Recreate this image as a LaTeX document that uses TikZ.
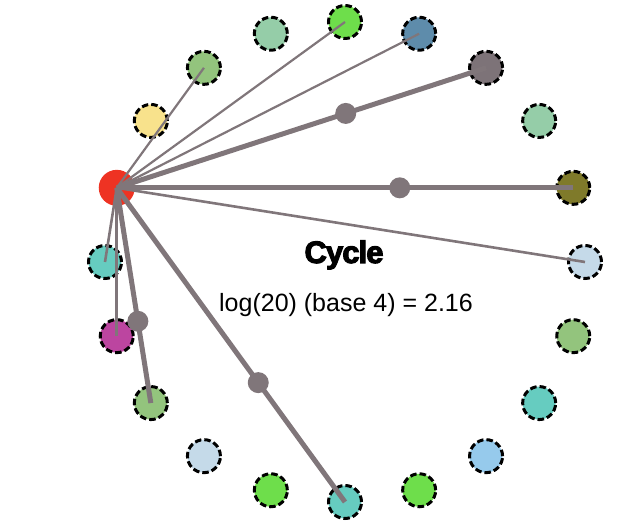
\documentclass[tikz,border=0pt]{standalone}
\usepackage{fontspec}
\setmainfont{Liberation Sans}
\newfontfamily\titlefont[FakeBold=3.5,LetterSpace=-3]{Liberation Sans Bold}
\usepackage{tikz}
\usetikzlibrary{positioning}
\definecolor{edgegrey}{RGB}{128,118,122}
\definecolor{paleblue}{RGB}{197,218,233}
\definecolor{olivec}{RGB}{127,122,42}
\definecolor{sage}{RGB}{149,205,168}
\definecolor{mauvegrey}{RGB}{125,115,120}
\definecolor{steelc}{RGB}{94,140,171}
\definecolor{limec}{RGB}{110,222,75}
\definecolor{leafc}{RGB}{147,196,125}
\definecolor{butter}{RGB}{248,226,140}
\definecolor{sourcered}{RGB}{238,51,35}
\definecolor{tealc}{RGB}{102,204,192}
\definecolor{magentac}{RGB}{188,69,160}
\definecolor{skyc}{RGB}{150,202,236}

\begin{document}
\begin{tikzpicture}[
	x=1pt,y=1pt,
	vertex/.style={circle,draw=black,line width=3pt,dash pattern=on 6.5pt off 3pt,minimum size=33pt,inner sep=0pt},
	link/.style={draw=edgegrey,line width=2.2pt},
	heavy/.style={draw=edgegrey,line width=5pt},
	knot/.style={circle,fill=edgegrey,minimum size=21pt,inner sep=0pt,pos=.62}]
	\useasboundingbox (-345,-264) rectangle (298,262);
	\foreach \k/\c in {0/paleblue,1/olivec,2/sage,3/mauvegrey,4/steelc,5/limec,6/sage,7/leafc,8/butter,10/tealc,11/magentac,12/leafc,13/paleblue,14/limec,15/tealc,16/limec,17/skyc,18/tealc,19/leafc}
		\node[vertex,fill=\c] (n\k) at ({\k*18}:240) {};
	\node[circle,fill=sourcered,minimum size=36pt,inner sep=0pt] (n9) at (162:240) {};
	\draw[link] (n9.center) -- (n7.center);
	\draw[link] (n9.center) -- (n5.center);
	\draw[link] (n9.center) -- (n4.center);
	\draw[heavy] (n9.center) -- (n3.center) node[knot] (k3) {};
	\draw[heavy] (n9.center) -- (n1.center) node[knot] (k1) {};
	\draw[link,line width=2.6pt] (n9.center) -- (n0.center);
	\draw[heavy] (n9.center) -- (n15.center) node[knot] (k15) {};
	\draw[heavy] (n9.center) -- (n12.center) node[knot] (k12) {};
	\draw[link,line width=3pt] (n9.center) -- (n11.center);
	\draw[link,line width=2.6pt] (n9.center) -- (n10.center);
	\node[anchor=base,font=\titlefont\fontsize{31}{36}\selectfont] (title) at (-1,-1) {Cycle};
	\node[anchor=base,font=\fontsize{25}{30}\selectfont] (score) at (1,-50) {log(20) (base 4) = 2.16};
\end{tikzpicture}
\end{document}
